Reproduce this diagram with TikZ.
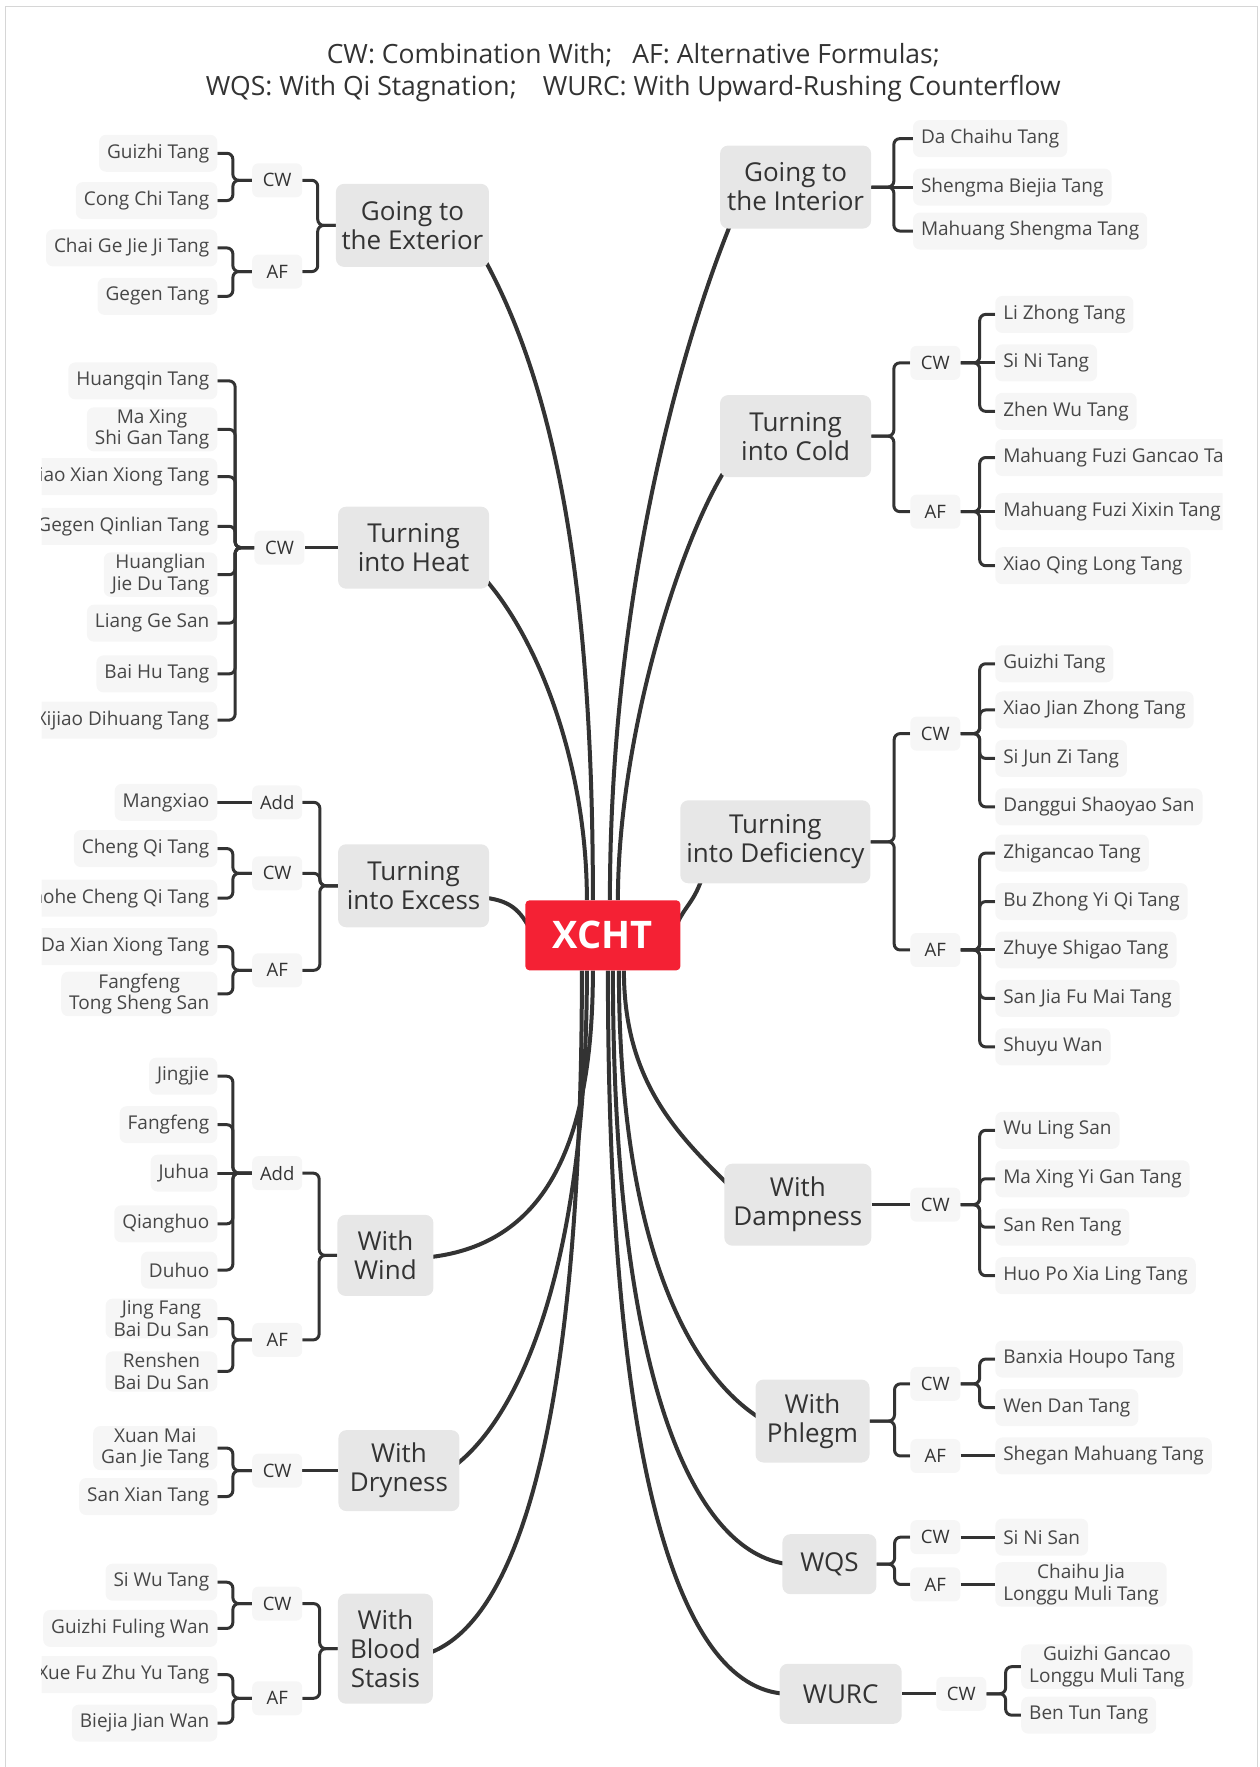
\documentclass[tikz,border=0pt]{standalone}
\usepackage{fontspec}
\setmainfont{Open Sans}
\usetikzlibrary{backgrounds}
\definecolor{ink}{HTML}{333333}
\definecolor{framegray}{HTML}{D6D6D6}
\definecolor{topicgray}{HTML}{E7E7E7}
\definecolor{formgray}{HTML}{F6F6F6}
\definecolor{hubred}{HTML}{F42134}
\tikzset{
  keytext/.style={text=ink, align=center, font=\fontsize{26.5}{32}\selectfont},
  hub/.style={fill=hubred, text=white, rounded corners=4pt, minimum width=155, minimum height=70,
    font=\fontsize{38}{40}\selectfont\bfseries},
  topic/.style={fill=topicgray, text=ink, rounded corners=8pt, align=center, inner sep=2pt,
    font=\fontsize{26}{29}\selectfont},
  subtag/.style={fill=formgray, text=ink, rounded corners=6pt, minimum width=50, minimum height=34,
    inner sep=2pt, font=\fontsize{18.5}{21.5}\selectfont},
  formula/.style={fill=formgray, text=ink!90, rounded corners=7pt, align=center, minimum height=37,
    inner xsep=8pt, inner ysep=2pt, font=\fontsize{19}{21.5}\selectfont},
  lform/.style={formula, anchor=east},
  rform/.style={formula, anchor=west},
  branch/.style={draw=ink, line width=4pt},
  brk/.style={draw=ink, line width=3pt, rounded corners=6pt},
}
\begin{document}
\begin{tikzpicture}[x=1.127pt, y=-1.127pt]
\useasboundingbox (0,0) rectangle (1118,1568);
\draw[framegray, line width=1.2pt] (5,1568) -- (5,5.5) -- (1116,5.5) -- (1116,1568);
\node[keytext] (legend) at (562,64) {CW: Combination With;\hspace{20pt}AF: Alternative Formulas;\\
  WQS: With Qi Stagnation;\hspace{26pt}WURC: With Upward-Rushing Counterflow};

\begin{scope}
\clip (37,0) rectangle (1085,1568);
\node[hub] (xcht) at (535,830) {XCHT};

% left branches
\node[topic, minimum width=153, minimum height=83] (ext) at (366,200) {Going to\\the Exterior};
\node[subtag] (ecw) at (246,160) {CW};
\node[subtag] (eaf) at (246,241) {AF};
\node[lform] (e1) at (193,136) {Guizhi Tang};
\node[lform] (e2) at (193,178) {Cong Chi Tang};
\node[lform] (e3) at (193,220) {Chai Ge Jie Ji Tang};
\node[lform] (e4) at (193,263) {Gegen Tang};

\node[topic, minimum width=151, minimum height=82] (heat) at (367,486) {Turning\\into Heat};
\node[subtag] (hcw) at (248,486) {CW};
\node[lform] (h1) at (193,338) {Huangqin Tang};
\node[lform] (h2) at (193,381) {Ma Xing\\Shi Gan Tang};
\node[lform] (h3) at (193,423) {Xiao Xian Xiong Tang};
\node[lform] (h4) at (193,467) {Gegen Qinlian Tang};
\node[lform] (h5) at (193,510) {Huanglian\\Jie Du Tang};
\node[lform] (h6) at (193,553) {Liang Ge San};
\node[lform] (h7) at (193,598) {Bai Hu Tang};
\node[lform] (h8) at (193,639) {Xijiao Dihuang Tang};

\node[topic, minimum width=151, minimum height=83] (exc) at (367,786) {Turning\\into Excess};
\node[subtag] (xadd) at (246,712) {Add};
\node[subtag] (xcw) at (246,775) {CW};
\node[subtag] (xaf) at (246,861) {AF};
\node[lform] (x1) at (193,712) {Mangxiao};
\node[lform] (x2) at (193,753) {Cheng Qi Tang};
\node[lform] (x3) at (193,797) {Taohe Cheng Qi Tang};
\node[lform] (x4) at (193,840) {Da Xian Xiong Tang};
\node[lform] (x5) at (193,882) {Fangfeng\\Tong Sheng San};

\node[topic, minimum width=96, minimum height=81] (wind) at (342,1114) {With\\Wind};
\node[subtag] (wadd) at (246,1041) {Add};
\node[subtag] (waf) at (246,1189) {AF};
\node[lform] (w1) at (193,955) {Jingjie};
\node[lform] (w2) at (193,998) {Fangfeng};
\node[lform] (w3) at (193,1041) {Juhua};
\node[lform] (w4) at (193,1086) {Qianghuo};
\node[lform] (w5) at (193,1127) {Duhuo};
\node[lform] (w6) at (193,1170) {Jing Fang\\Bai Du San};
\node[lform] (w7) at (193,1217) {Renshen\\Bai Du San};

\node[topic, minimum width=121, minimum height=81] (dry) at (354,1305) {With\\Dryness};
\node[subtag] (dcw) at (246,1305) {CW};
\node[lform] (d1) at (193,1285) {Xuan Mai\\Gan Jie Tang};
\node[lform] (d2) at (193,1328) {San Xian Tang};

\node[topic, minimum width=95, minimum height=110] (blood) at (342,1463) {With\\Blood\\Stasis};
\node[subtag] (bcw) at (246,1423) {CW};
\node[subtag] (baf) at (246,1507) {AF};
\node[lform] (b1) at (193,1404) {Si Wu Tang};
\node[lform] (b2) at (193,1445) {Guizhi Fuling Wan};
\node[lform] (b3) at (193,1486) {Xue Fu Zhu Yu Tang};
\node[lform] (b4) at (193,1529) {Biejia Jian Wan};

% right branches
\node[topic, minimum width=151, minimum height=83] (int) at (706,166) {Going to\\the Interior};
\node[rform] (i1) at (810,123) {Da Chaihu Tang};
\node[rform] (i2) at (810,166) {Shengma Biejia Tang};
\node[rform] (i3) at (810,205) {Mahuang Shengma Tang};

\node[topic, minimum width=151, minimum height=82] (cold) at (706,387) {Turning\\into Cold};
\node[subtag] (ccw) at (830,322) {CW};
\node[subtag] (caf) at (830,454) {AF};
\node[rform] (c1) at (883,279) {Li Zhong Tang};
\node[rform] (c2) at (883,322) {Si Ni Tang};
\node[rform] (c3) at (883,365) {Zhen Wu Tang};
\node[rform] (c4) at (883,406) {Mahuang Fuzi Gancao Tang};
\node[rform] (c5) at (883,454) {Mahuang Fuzi Xixin Tang};
\node[rform] (c6) at (883,502) {Xiao Qing Long Tang};

\node[topic, minimum width=190, minimum height=83] (defi) at (688,747) {Turning\\into Deficiency};
\node[subtag] (fcw) at (830,651) {CW};
\node[subtag] (faf) at (830,843) {AF};
\node[rform] (f1) at (883,589) {Guizhi Tang};
\node[rform] (f2) at (883,630) {Xiao Jian Zhong Tang};
\node[rform] (f3) at (883,673) {Si Jun Zi Tang};
\node[rform] (f4) at (883,716) {Danggui Shaoyao San};
\node[rform] (f5) at (883,757) {Zhigancao Tang};
\node[rform] (f6) at (883,800) {Bu Zhong Yi Qi Tang};
\node[rform] (f7) at (883,843) {Zhuye Shigao Tang};
\node[rform] (f8) at (883,886) {San Jia Fu Mai Tang};
\node[rform] (f9) at (883,929) {Shuyu Wan};

\node[topic, minimum width=147, minimum height=82] (damp) at (708,1069) {With\\Dampness};
\node[subtag] (mcw) at (830,1069) {CW};
\node[rform] (m1) at (883,1003) {Wu Ling San};
\node[rform] (m2) at (883,1046) {Ma Xing Yi Gan Tang};
\node[rform] (m3) at (883,1089) {San Ren Tang};
\node[rform] (m4) at (883,1132) {Huo Po Xia Ling Tang};

\node[topic, minimum width=114, minimum height=83] (phl) at (721,1261) {With\\Phlegm};
\node[subtag] (pcw) at (830,1228) {CW};
\node[subtag] (paf) at (830,1292) {AF};
\node[rform] (p1) at (883,1206) {Banxia Houpo Tang};
\node[rform] (p2) at (883,1249) {Wen Dan Tang};
\node[rform] (p3) at (883,1292) {Shegan Mahuang Tang};

\node[topic, minimum width=94, minimum height=60] (wqs) at (736,1388) {WQS};
\node[subtag] (qcw) at (830,1364) {CW};
\node[subtag] (qaf) at (830,1406) {AF};
\node[rform] (q1) at (883,1364) {Si Ni San};
\node[rform] (q2) at (883,1406) {Chaihu Jia\\Longgu Muli Tang};

\node[topic, minimum width=122, minimum height=60] (wurc) at (746,1503) {WURC};
\node[subtag] (ucw) at (853,1503) {CW};
\node[rform] (u1) at (906,1479) {Guizhi Gancao\\Longgu Muli Tang};
\node[rform] (u2) at (906,1522) {Ben Tun Tang};

\begin{pgfonlayer}{background}
% curved branches from the centre
\draw[branch] ([xshift=-10pt]xcht.north) .. controls +(0,-260) and +(70,125) .. ([xshift=-7pt,yshift=12pt]ext.south east);
\draw[branch] ([xshift=-16pt]xcht.north) .. controls +(0,-120) and +(50,55) .. ([xshift=-7pt,yshift=13pt]heat.south east);
\draw[branch] ([xshift=8pt]xcht.west) .. controls +(-10,-20) and +(25,3) .. ([xshift=-4pt,yshift=-12pt]exc.east);
\draw[branch] ([xshift=-10pt]xcht.south) .. controls +(0,170) and +(95,-10) .. ([xshift=-6pt,yshift=-2pt]wind.east);
\draw[branch] ([xshift=-16pt]xcht.south) .. controls +(0,260) and +(60,-45) .. ([xshift=-6pt,yshift=4pt]dry.east);
\draw[branch] ([xshift=-21pt]xcht.south) .. controls +(0,420) and +(75,-25) .. ([xshift=-6pt,yshift=-5pt]blood.east);
\draw[branch] ([xshift=7pt]xcht.north) .. controls +(0,-270) and +(-45,110) .. ([xshift=12pt,yshift=8pt]int.south west);
\draw[branch] ([xshift=15pt]xcht.north) .. controls +(0,-140) and +(-45,70) .. ([xshift=8pt,yshift=12pt]cold.south west);
\draw[branch] ([xshift=-8pt]xcht.east) .. controls +(8,-25) and +(-8,25) .. ([xshift=22pt,yshift=6pt]defi.south west);
\draw[branch] ([xshift=21pt]xcht.south) .. controls +(0,100) and +(-45,-45) .. ([xshift=6pt,yshift=18pt]damp.west);
\draw[branch] ([xshift=16pt]xcht.south) .. controls +(0,240) and +(-65,-40) .. ([xshift=6pt,yshift=2pt]phl.west);
\draw[branch] ([xshift=10pt]xcht.south) .. controls +(0,360) and +(-85,-10) .. ([xshift=6pt]wqs.west);
\draw[branch] ([xshift=5pt]xcht.south) .. controls +(0,440) and +(-95,-5) .. ([xshift=6pt]wurc.west);

% brackets, left side
\draw[brk] (ext.west) -- ++(-16,0) |- (ecw.east);
\draw[brk] (ext.west) -- ++(-16,0) |- (eaf.east);
\draw[brk] (ecw.west) -- ++(-17,0) |- (e1.east);
\draw[brk] (ecw.west) -- ++(-17,0) |- (e2.east);
\draw[brk] (eaf.west) -- ++(-17,0) |- (e3.east);
\draw[brk] (eaf.west) -- ++(-17,0) |- (e4.east);

\draw[brk] (heat.west) -- (hcw.east);
\draw[brk] (hcw.west) -- ++(-17,0) |- (h1.east);
\draw[brk] (hcw.west) -- ++(-17,0) |- (h2.east);
\draw[brk] (hcw.west) -- ++(-17,0) |- (h3.east);
\draw[brk] (hcw.west) -- ++(-17,0) |- (h4.east);
\draw[brk] (hcw.west) -- ++(-17,0) |- (h5.east);
\draw[brk] (hcw.west) -- ++(-17,0) |- (h6.east);
\draw[brk] (hcw.west) -- ++(-17,0) |- (h7.east);
\draw[brk] (hcw.west) -- ++(-17,0) |- (h8.east);

\draw[brk] (exc.west) -- ++(-16,0) |- (xadd.east);
\draw[brk] (exc.west) -- ++(-16,0) |- (xcw.east);
\draw[brk] (exc.west) -- ++(-16,0) |- (xaf.east);
\draw[brk] (xadd.west) -- (x1.east);
\draw[brk] (xcw.west) -- ++(-17,0) |- (x2.east);
\draw[brk] (xcw.west) -- ++(-17,0) |- (x3.east);
\draw[brk] (xaf.west) -- ++(-17,0) |- (x4.east);
\draw[brk] (xaf.west) -- ++(-17,0) |- (x5.east);

\draw[brk] (wind.west) -- ++(-16,0) |- (wadd.east);
\draw[brk] (wind.west) -- ++(-16,0) |- (waf.east);
\draw[brk] (wadd.west) -- ++(-17,0) |- (w1.east);
\draw[brk] (wadd.west) -- ++(-17,0) |- (w2.east);
\draw[brk] (wadd.west) -- (w3.east);
\draw[brk] (wadd.west) -- ++(-17,0) |- (w4.east);
\draw[brk] (wadd.west) -- ++(-17,0) |- (w5.east);
\draw[brk] (waf.west) -- ++(-17,0) |- (w6.east);
\draw[brk] (waf.west) -- ++(-17,0) |- (w7.east);

\draw[brk] (dry.west) -- (dcw.east);
\draw[brk] (dcw.west) -- ++(-17,0) |- (d1.east);
\draw[brk] (dcw.west) -- ++(-17,0) |- (d2.east);

\draw[brk] (blood.west) -- ++(-16,0) |- (bcw.east);
\draw[brk] (blood.west) -- ++(-16,0) |- (baf.east);
\draw[brk] (bcw.west) -- ++(-17,0) |- (b1.east);
\draw[brk] (bcw.west) -- ++(-17,0) |- (b2.east);
\draw[brk] (baf.west) -- ++(-17,0) |- (b3.east);
\draw[brk] (baf.west) -- ++(-17,0) |- (b4.east);

% brackets, right side
\draw[brk] (int.east) -- ++(20,0) |- (i1.west);
\draw[brk] (int.east) -- (i2.west);
\draw[brk] (int.east) -- ++(20,0) |- (i3.west);

\draw[brk] (cold.east) -- ++(20,0) |- (ccw.west);
\draw[brk] (cold.east) -- ++(20,0) |- (caf.west);
\draw[brk] (ccw.east) -- ++(17,0) |- (c1.west);
\draw[brk] (ccw.east) -- (c2.west);
\draw[brk] (ccw.east) -- ++(17,0) |- (c3.west);
\draw[brk] (caf.east) -- ++(17,0) |- (c4.west);
\draw[brk] (caf.east) -- (c5.west);
\draw[brk] (caf.east) -- ++(17,0) |- (c6.west);

\draw[brk] (defi.east) -- ++(21,0) |- (fcw.west);
\draw[brk] (defi.east) -- ++(21,0) |- (faf.west);
\draw[brk] (fcw.east) -- ++(17,0) |- (f1.west);
\draw[brk] (fcw.east) -- ++(17,0) |- (f2.west);
\draw[brk] (fcw.east) -- ++(17,0) |- (f3.west);
\draw[brk] (fcw.east) -- ++(17,0) |- (f4.west);
\draw[brk] (faf.east) -- ++(17,0) |- (f5.west);
\draw[brk] (faf.east) -- ++(17,0) |- (f6.west);
\draw[brk] (faf.east) -- (f7.west);
\draw[brk] (faf.east) -- ++(17,0) |- (f8.west);
\draw[brk] (faf.east) -- ++(17,0) |- (f9.west);

\draw[brk] (damp.east) -- (mcw.west);
\draw[brk] (mcw.east) -- ++(17,0) |- (m1.west);
\draw[brk] (mcw.east) -- ++(17,0) |- (m2.west);
\draw[brk] (mcw.east) -- ++(17,0) |- (m3.west);
\draw[brk] (mcw.east) -- ++(17,0) |- (m4.west);

\draw[brk] (phl.east) -- ++(22,0) |- (pcw.west);
\draw[brk] (phl.east) -- ++(22,0) |- (paf.west);
\draw[brk] (pcw.east) -- ++(17,0) |- (p1.west);
\draw[brk] (pcw.east) -- ++(17,0) |- (p2.west);
\draw[brk] (paf.east) -- (p3.west);

\draw[brk] (wqs.east) -- ++(16,0) |- (qcw.west);
\draw[brk] (wqs.east) -- ++(16,0) |- (qaf.west);
\draw[brk] (qcw.east) -- (q1.west);
\draw[brk] (qaf.east) -- (q2.west);

\draw[brk] (wurc.east) -- (ucw.west);
\draw[brk] (ucw.east) -- ++(17,0) |- (u1.west);
\draw[brk] (ucw.east) -- ++(17,0) |- (u2.west);
\end{pgfonlayer}
\end{scope}
\end{tikzpicture}
\end{document}
